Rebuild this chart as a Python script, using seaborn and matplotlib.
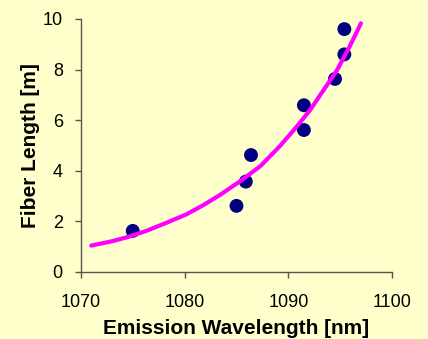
import pandas as pd
import matplotlib
matplotlib.use("Agg")
import matplotlib.pyplot as plt
import seaborn as sns

# Measured points
wavelength = [1075.0, 1085.0, 1085.9, 1086.4, 1091.5, 1091.5, 1094.5, 1095.4, 1095.4]
fiber_length = [1.62, 2.61, 3.57, 4.62, 5.61, 6.59, 7.63, 8.6, 9.6]

# Fitted curve
fit_wavelength = [1071.0, 1073.1, 1074.7, 1076.3, 1078.3, 1080.2, 1081.8, 1083.4,
                  1085.3, 1087.3, 1089.2, 1090.8, 1092.1, 1093.4, 1094.7, 1095.9, 1097.0]
fit_length = [1.04, 1.22, 1.40, 1.62, 1.95, 2.28, 2.64, 3.04,
              3.57, 4.18, 4.98, 5.74, 6.40, 7.19, 7.98, 8.90, 9.83]

points = pd.DataFrame({"x": wavelength, "y": fiber_length})
fit = pd.DataFrame({"x": fit_wavelength, "y": fit_length})

bg = "#FFFFCC"
sns.set_theme(style="ticks")
plt.rcParams["font.family"] = ["Liberation Sans", "DejaVu Sans"]

fig = plt.figure(figsize=(4.28, 3.39), dpi=100, facecolor=bg)
ax = fig.add_axes([0.189, 0.198, 0.727, 0.746])
ax.set_facecolor(bg)

sns.scatterplot(data=points, x="x", y="y", ax=ax, s=100, color="#000080",
                edgecolor="none", zorder=2)
sns.lineplot(data=fit, x="x", y="y", ax=ax, color="#FF00FF", linewidth=3,
             sort=False, zorder=3)

ax.set_xlim(1070, 1100)
ax.set_ylim(0, 10)
ax.set_xticks([1070, 1080, 1090, 1100])
ax.set_yticks([0, 2, 4, 6, 8, 10])

for s in ["top", "right"]:
    ax.spines[s].set_visible(False)
for s in ["left", "bottom"]:
    ax.spines[s].set_color("#555555")
    ax.spines[s].set_linewidth(1.0)
ax.tick_params(colors="#555555", labelcolor="black", labelsize=13, length=4, width=1)
ax.tick_params(axis="x", pad=12)
ax.tick_params(axis="y", pad=9)

ax.set_xlabel("Emission Wavelength [nm]", fontsize=15, fontweight="bold",
              labelpad=6, color="black")
ax.set_ylabel("Fiber Length [m]", fontsize=15, fontweight="bold",
              labelpad=2, color="black")

fig.savefig("out.png", dpi=100, facecolor=bg)
